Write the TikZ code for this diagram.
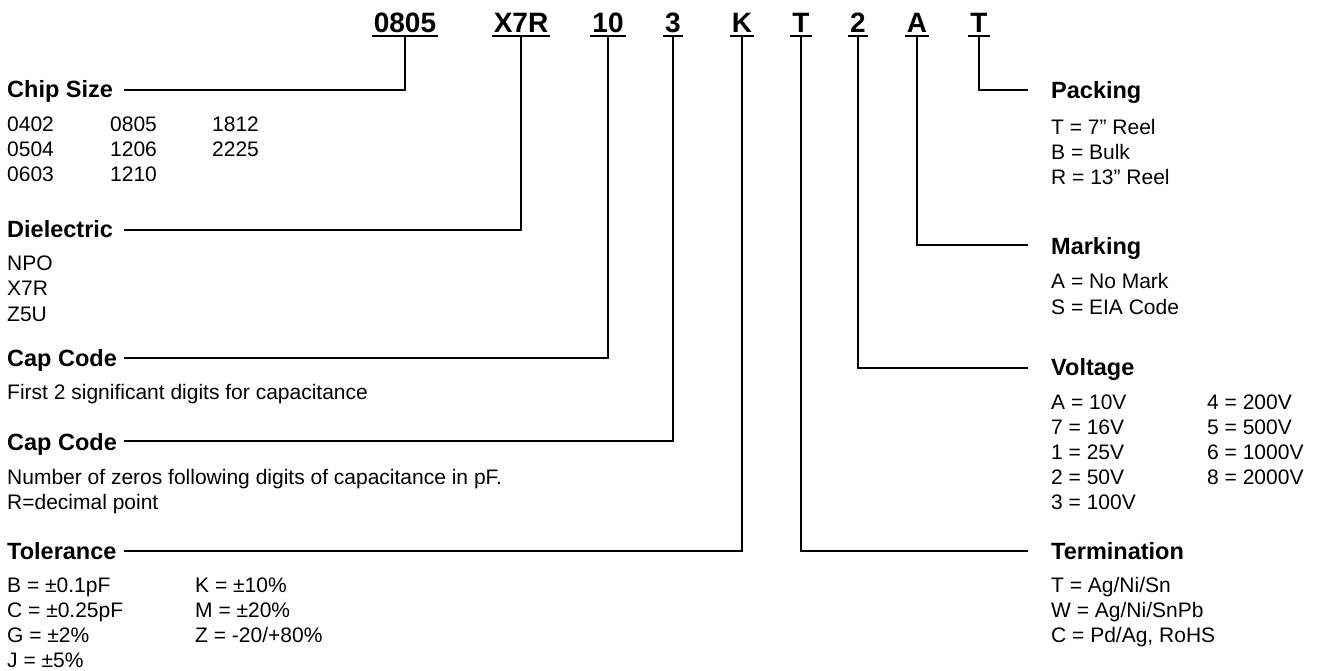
\documentclass[tikz,border=0pt]{standalone}
\usepackage{fontspec}
\setmainfont{Liberation Sans}
\begin{document}
\begin{tikzpicture}[x=1pt,y=-1pt,
  code/.style={font=\fontsize{28}{30}\selectfont\bfseries, inner sep=0pt, anchor=base},
  head/.style={font=\fontsize{23.5}{26}\selectfont\bfseries, inner sep=0pt, anchor=base west},
  body/.style={font=\fontsize{21}{25}\selectfont, inner sep=0pt, anchor=base west},
  uline/.style={line width=2.5pt},
  conn/.style={line width=2.5pt, line join=miter}]
\useasboundingbox (0,0) rectangle (1318,671);

% top codes
\foreach \t/\x/\n in {0805/405/c1, X7R/521/c2, 10/608/c3, 3/673/c4, K/742/c5, T/801/c6, 2/858/c7, A/917/c8, T/979/c9}{
  \node[code] (\n) at (\x,33) {\t};
  \draw[uline] ([shift={(-2,3)}]\n.base west) -- ([shift={(2,3)}]\n.base east);
}

% left headers
\node[head] (hchip) at (7,98) {Chip Size};
\node[head] (hdiel) at (7,238) {Dielectric};
\node[head] (hcap1) at (7,366) {Cap Code};
\node[head] (hcap2) at (7,450) {Cap Code};
\node[head] (htol) at (7,559) {Tolerance};

\coordinate (lchip) at (124,90);
\coordinate (ldiel) at (124,230);
\coordinate (lcap1) at (124,358);
\coordinate (lcap2) at (124,441);
\coordinate (ltol) at (124,551);

% right headers
\node[head] (hpack) at (1051,99) {Packing};
\node[head] (hmark) at (1051,255) {Marking};
\node[head] (hvolt) at (1051,375) {Voltage};
\node[head] (hterm) at (1051,559) {Termination};

\coordinate (rpack) at (1028,90);
\coordinate (rmark) at (1028,245);
\coordinate (rvolt) at (1028,368);
\coordinate (rterm) at (1028,551);

% connectors
\draw[conn] ([yshift=-3pt]c1.base) |- (lchip);
\draw[conn] ([yshift=-3pt]c2.base) |- (ldiel);
\draw[conn] ([yshift=-3pt]c3.base) |- (lcap1);
\draw[conn] ([yshift=-3pt]c4.base) |- (lcap2);
\draw[conn] ([yshift=-3pt]c5.base) |- (ltol);
\draw[conn] ([yshift=-3pt]c6.base) |- (rterm);
\draw[conn] ([yshift=-3pt]c7.base) |- (rvolt);
\draw[conn] ([yshift=-3pt]c8.base) |- (rmark);
\draw[conn] ([yshift=-3pt]c9.base) |- (rpack);

% chip size
\foreach \t [count=\i] in {0402,0504,0603} \node[body] (csa\i) at (7,{132+25*(\i-1)}) {\t};
\foreach \t [count=\i] in {0805,1206,1210} \node[body] (csb\i) at (110,{132+25*(\i-1)}) {\t};
\foreach \t [count=\i] in {1812,2225} \node[body] (csc\i) at (212,{132+25*(\i-1)}) {\t};

% dielectric
\foreach \t [count=\i] in {NPO,X7R,Z5U} \node[body] (di\i) at (7,{271+25*(\i-1)}) {\t};

% cap codes
\node[body] (cc1) at (7,399) {First 2 significant digits for capacitance};
\node[body] (cc2) at (7,484) {Number of zeros following digits of capacitance in pF.};
\node[body] (cc3) at (7,509) {R=decimal point};

% tolerance
\foreach \t [count=\i] in {B = ±0.1pF, C = ±0.25pF, G = ±2\%, J = ±5\%} \node[body] (ta\i) at (7,{592+25*(\i-1)}) {\t};
\foreach \t [count=\i] in {K = ±10\%, M = ±20\%, Z = -20/+80\%} \node[body] (tb\i) at (195,{592+25*(\i-1)}) {\t};

% packing
\foreach \t [count=\i] in {T = 7” Reel, B = Bulk, R = 13” Reel} \node[body] (pk\i) at (1051,{135+25*(\i-1)}) {\t};

% marking
\foreach \t [count=\i] in {A = No Mark, S = EIA Code} \node[body] (mk\i) at (1051,{289+25*(\i-1)}) {\t};

% voltage
\foreach \t [count=\i] in {A = 10V, 7 = 16V, 1 = 25V, 2 = 50V, 3 = 100V} \node[body] (va\i) at (1051,{409+25*(\i-1)}) {\t};
\foreach \t [count=\i] in {4 = 200V, 5 = 500V, 6 = 1000V, 8 = 2000V} \node[body] (vb\i) at (1207,{409+25*(\i-1)}) {\t};

% termination
\foreach \t [count=\i] in {T = Ag/Ni/Sn, W = Ag/Ni/SnPb, {C = Pd/Ag, RoHS}} \node[body] (tm\i) at (1051,{592+25*(\i-1)}) {\t};
\end{tikzpicture}
\end{document}
